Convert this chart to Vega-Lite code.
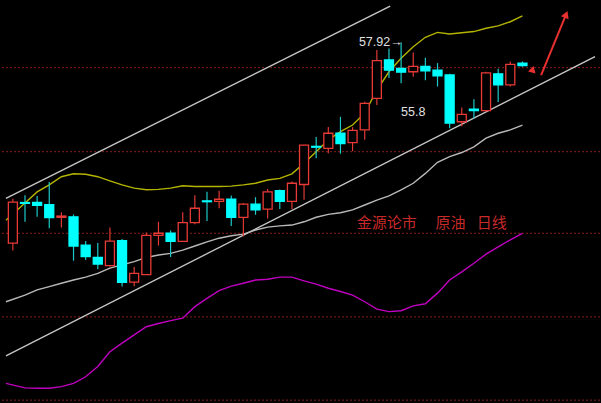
{
  "$schema": "https://vega.github.io/schema/vega-lite/v6.json",
  "width": 601,
  "height": 403,
  "autosize": {"type": "fit", "contains": "padding"},
  "padding": 0,
  "background": "#000000",
  "config": {"view": {"stroke": null}},
  "datasets": {
    "candles": [
      {"i":0,"o":53.02,"h":54.10,"l":52.84,"c":54.02},
      {"i":1,"o":54.01,"h":54.19,"l":53.54,"c":53.99},
      {"i":2,"o":54.01,"h":54.17,"l":53.66,"c":53.94},
      {"i":3,"o":53.96,"h":54.51,"l":53.38,"c":53.64},
      {"i":4,"o":53.65,"h":53.77,"l":53.40,"c":53.68},
      {"i":5,"o":53.66,"h":53.72,"l":52.59,"c":52.95},
      {"i":6,"o":52.97,"h":53.07,"l":52.61,"c":52.69},
      {"i":7,"o":52.67,"h":53.02,"l":52.38,"c":52.51},
      {"i":8,"o":52.47,"h":53.40,"l":52.45,"c":53.07},
      {"i":9,"o":53.08,"h":53.12,"l":51.96,"c":52.06},
      {"i":10,"o":52.07,"h":52.44,"l":51.97,"c":52.28},
      {"i":11,"o":52.25,"h":53.28,"l":52.24,"c":53.21},
      {"i":12,"o":53.21,"h":53.54,"l":52.96,"c":53.26},
      {"i":13,"o":53.26,"h":53.33,"l":52.68,"c":53.06},
      {"i":14,"o":53.06,"h":53.77,"l":53.05,"c":53.52},
      {"i":15,"o":53.52,"h":54.19,"l":53.48,"c":53.87},
      {"i":16,"o":54.05,"h":54.27,"l":53.56,"c":54.03},
      {"i":17,"o":54.04,"h":54.30,"l":53.87,"c":54.09},
      {"i":18,"o":54.09,"h":54.18,"l":53.44,"c":53.65},
      {"i":19,"o":53.65,"h":54.00,"l":53.19,"c":53.97},
      {"i":20,"o":53.97,"h":54.14,"l":53.71,"c":53.83},
      {"i":21,"o":53.85,"h":54.34,"l":53.62,"c":54.27},
      {"i":22,"o":54.30,"h":54.33,"l":53.85,"c":54.04},
      {"i":23,"o":54.04,"h":54.52,"l":53.85,"c":54.48},
      {"i":24,"o":54.45,"h":55.42,"l":54.08,"c":55.41},
      {"i":25,"o":55.38,"h":55.61,"l":55.09,"c":55.36},
      {"i":26,"o":55.33,"h":55.85,"l":55.21,"c":55.70},
      {"i":27,"o":55.70,"h":56.10,"l":55.20,"c":55.45},
      {"i":28,"o":55.47,"h":55.85,"l":55.26,"c":55.77},
      {"i":29,"o":55.78,"h":56.47,"l":55.54,"c":56.43},
      {"i":30,"o":56.55,"h":57.73,"l":56.39,"c":57.47},
      {"i":31,"o":57.49,"h":57.77,"l":57.05,"c":57.24},
      {"i":32,"o":57.28,"h":57.92,"l":56.92,"c":57.19},
      {"i":33,"o":57.20,"h":57.67,"l":57.08,"c":57.33},
      {"i":34,"o":57.33,"h":57.54,"l":56.99,"c":57.22},
      {"i":35,"o":57.24,"h":57.41,"l":56.84,"c":57.10},
      {"i":36,"o":57.12,"h":57.15,"l":55.82,"c":55.95},
      {"i":37,"o":55.98,"h":56.33,"l":55.87,"c":56.16},
      {"i":38,"o":56.29,"h":56.53,"l":56.06,"c":56.25},
      {"i":39,"o":56.25,"h":57.20,"l":56.23,"c":57.17},
      {"i":40,"o":57.15,"h":57.27,"l":56.46,"c":56.88},
      {"i":41,"o":56.88,"h":57.45,"l":56.84,"c":57.38},
      {"i":42,"o":57.41,"h":57.45,"l":57.32,"c":57.35}
    ],
    "ma": [
      {"s":"upper","i":-0.57,"p":53.58},{"s":"upper","i":1,"p":54.00},{"s":"upper","i":2,"p":54.27},{"s":"upper","i":3,"p":54.44},{"s":"upper","i":4,"p":54.64},{"s":"upper","i":5,"p":54.71},{"s":"upper","i":6,"p":54.70},{"s":"upper","i":7,"p":54.64},{"s":"upper","i":8,"p":54.54},{"s":"upper","i":9,"p":54.44},{"s":"upper","i":10,"p":54.36},{"s":"upper","i":11,"p":54.32},{"s":"upper","i":12,"p":54.33},{"s":"upper","i":13,"p":54.36},{"s":"upper","i":14,"p":54.42},{"s":"upper","i":15,"p":54.40},{"s":"upper","i":16,"p":54.40},{"s":"upper","i":17,"p":54.40},{"s":"upper","i":18,"p":54.41},{"s":"upper","i":19,"p":54.44},{"s":"upper","i":20,"p":54.48},{"s":"upper","i":21,"p":54.56},{"s":"upper","i":22,"p":54.60},{"s":"upper","i":23,"p":54.71},{"s":"upper","i":24,"p":54.97},{"s":"upper","i":25,"p":55.25},{"s":"upper","i":26,"p":55.54},{"s":"upper","i":27,"p":55.74},{"s":"upper","i":28,"p":55.90},{"s":"upper","i":29,"p":56.19},{"s":"upper","i":30,"p":56.75},{"s":"upper","i":31,"p":57.20},{"s":"upper","i":32,"p":57.53},{"s":"upper","i":33,"p":57.81},{"s":"upper","i":34,"p":58.04},{"s":"upper","i":35,"p":58.16},{"s":"upper","i":36,"p":58.12},{"s":"upper","i":37,"p":58.15},{"s":"upper","i":38,"p":58.18},{"s":"upper","i":39,"p":58.26},{"s":"upper","i":40,"p":58.32},{"s":"upper","i":41,"p":58.42},{"s":"upper","i":42,"p":58.56},
      {"s":"mid","i":-0.57,"p":51.59},{"s":"mid","i":1,"p":51.75},{"s":"mid","i":2,"p":51.88},{"s":"mid","i":3,"p":51.96},{"s":"mid","i":4,"p":52.04},{"s":"mid","i":5,"p":52.12},{"s":"mid","i":6,"p":52.19},{"s":"mid","i":7,"p":52.28},{"s":"mid","i":8,"p":52.41},{"s":"mid","i":9,"p":52.49},{"s":"mid","i":10,"p":52.57},{"s":"mid","i":11,"p":52.67},{"s":"mid","i":12,"p":52.73},{"s":"mid","i":13,"p":52.77},{"s":"mid","i":14,"p":52.85},{"s":"mid","i":15,"p":52.95},{"s":"mid","i":16,"p":53.05},{"s":"mid","i":17,"p":53.14},{"s":"mid","i":18,"p":53.20},{"s":"mid","i":19,"p":53.24},{"s":"mid","i":20,"p":53.34},{"s":"mid","i":21,"p":53.41},{"s":"mid","i":22,"p":53.44},{"s":"mid","i":23,"p":53.46},{"s":"mid","i":24,"p":53.54},{"s":"mid","i":25,"p":53.65},{"s":"mid","i":26,"p":53.72},{"s":"mid","i":27,"p":53.76},{"s":"mid","i":28,"p":53.83},{"s":"mid","i":29,"p":53.95},{"s":"mid","i":30,"p":54.07},{"s":"mid","i":31,"p":54.17},{"s":"mid","i":32,"p":54.32},{"s":"mid","i":33,"p":54.48},{"s":"mid","i":34,"p":54.72},{"s":"mid","i":35,"p":54.99},{"s":"mid","i":36,"p":55.13},{"s":"mid","i":37,"p":55.23},{"s":"mid","i":38,"p":55.37},{"s":"mid","i":39,"p":55.58},{"s":"mid","i":40,"p":55.70},{"s":"mid","i":41,"p":55.78},{"s":"mid","i":42,"p":55.90},
      {"s":"lower","i":-0.57,"p":49.60},{"s":"lower","i":1,"p":49.49},{"s":"lower","i":2,"p":49.48},{"s":"lower","i":3,"p":49.48},{"s":"lower","i":4,"p":49.52},{"s":"lower","i":5,"p":49.60},{"s":"lower","i":6,"p":49.76},{"s":"lower","i":7,"p":50.01},{"s":"lower","i":8,"p":50.37},{"s":"lower","i":9,"p":50.58},{"s":"lower","i":10,"p":50.78},{"s":"lower","i":11,"p":50.98},{"s":"lower","i":12,"p":51.06},{"s":"lower","i":13,"p":51.13},{"s":"lower","i":14,"p":51.19},{"s":"lower","i":15,"p":51.47},{"s":"lower","i":16,"p":51.67},{"s":"lower","i":17,"p":51.86},{"s":"lower","i":18,"p":51.97},{"s":"lower","i":19,"p":52.04},{"s":"lower","i":20,"p":52.12},{"s":"lower","i":21,"p":52.14},{"s":"lower","i":22,"p":52.19},{"s":"lower","i":23,"p":52.19},{"s":"lower","i":24,"p":52.10},{"s":"lower","i":25,"p":52.02},{"s":"lower","i":26,"p":51.92},{"s":"lower","i":27,"p":51.84},{"s":"lower","i":28,"p":51.75},{"s":"lower","i":29,"p":51.59},{"s":"lower","i":30,"p":51.41},{"s":"lower","i":31,"p":51.35},{"s":"lower","i":32,"p":51.37},{"s":"lower","i":33,"p":51.49},{"s":"lower","i":34,"p":51.54},{"s":"lower","i":35,"p":51.80},{"s":"lower","i":36,"p":52.12},{"s":"lower","i":37,"p":52.32},{"s":"lower","i":38,"p":52.53},{"s":"lower","i":39,"p":52.75},{"s":"lower","i":40,"p":52.93},{"s":"lower","i":41,"p":53.10},{"s":"lower","i":42,"p":53.26}
    ],
    "channels": [
      {"s":"top","i":-0.57,"p":54.11},{"s":"top","i":31.1,"p":58.80},
      {"s":"bottom","i":-0.57,"p":50.27},{"s":"bottom","i":47.98,"p":57.57}
    ],
    "grid": [{"p":57.30},{"p":55.25},{"p":53.26},{"p":51.22},{"p":49.19}],
    "labels": [
      {"t":"57.92→","i":28.52,"p":57.92},
      {"t":"55.8","i":32.0,"p":56.22}
    ],
    "titles": [
      {"t":"金源论市","i":28.35,"p":53.51},
      {"t":"原油","i":34.84,"p":53.51},
      {"t":"日线","i":38.23,"p":53.51}
    ],
    "arrow": [{"i":43.54,"p":57.12,"i2":45.6,"p2":58.6}]
  },
  "layer": [
    {
      "data": {"name": "grid"},
      "mark": {"type": "rule", "color": "#8c1c1c", "strokeWidth": 1, "strokeDash": [2, 2]},
      "encoding": {
        "y": {"field": "p", "type": "quantitative", "scale": {"domain": [49.12, 58.95], "nice": false, "zero": false}, "axis": null}
      }
    },
    {
      "data": {"name": "channels"},
      "mark": {"type": "line", "color": "#c8c8c8", "strokeWidth": 1.3, "clip": true},
      "encoding": {
        "x": {"field": "i", "type": "quantitative", "scale": {"domain": [-0.565, 47.98], "nice": false, "zero": false}, "axis": null},
        "y": {"field": "p", "type": "quantitative", "axis": null},
        "detail": {"field": "s"}
      }
    },
    {
      "data": {"name": "ma"},
      "mark": {"type": "line", "strokeWidth": 1.4, "clip": true},
      "encoding": {
        "x": {"field": "i", "type": "quantitative", "axis": null},
        "y": {"field": "p", "type": "quantitative", "axis": null},
        "color": {"field": "s", "type": "nominal", "scale": {"domain": ["upper", "mid", "lower"], "range": ["#b4b400", "#b9b9b9", "#c000c0"]}, "legend": null}
      }
    },
    {
      "data": {"name": "candles"},
      "mark": {"type": "rule", "strokeWidth": 1.2},
      "encoding": {
        "x": {"field": "i", "type": "quantitative", "axis": null},
        "y": {"field": "l", "type": "quantitative", "axis": null},
        "y2": {"field": "h"},
        "color": {"condition": {"test": "datum.c >= datum.o", "value": "#e03a36"}, "value": "#1cc8c8"}
      }
    },
    {
      "data": {"name": "candles"},
      "mark": {"type": "bar", "size": 9, "strokeWidth": 1.3},
      "encoding": {
        "x": {"field": "i", "type": "quantitative", "axis": null},
        "y": {"field": "o", "type": "quantitative", "axis": null},
        "y2": {"field": "c"},
        "fill": {"condition": {"test": "datum.c >= datum.o", "value": "#000000"}, "value": "#00ffff"},
        "stroke": {"condition": {"test": "datum.c >= datum.o", "value": "#e83a36"}, "value": "#00ffff"}
      }
    },
    {
      "data": {"name": "labels"},
      "mark": {"type": "text", "align": "left", "baseline": "middle", "fontSize": 12.5, "font": "Liberation Sans", "color": "#e0e0e0"},
      "encoding": {
        "x": {"field": "i", "type": "quantitative", "axis": null},
        "y": {"field": "p", "type": "quantitative", "axis": null},
        "text": {"field": "t"}
      }
    },
    {
      "data": {"name": "titles"},
      "mark": {"type": "text", "align": "left", "baseline": "middle", "fontSize": 15, "font": "Noto Sans CJK SC", "color": "#c82a2a"},
      "encoding": {
        "x": {"field": "i", "type": "quantitative", "axis": null},
        "y": {"field": "p", "type": "quantitative", "axis": null},
        "text": {"field": "t"}
      }
    },
    {
      "data": {"name": "arrow"},
      "mark": {"type": "rule", "color": "#e83030", "strokeWidth": 2},
      "encoding": {
        "x": {"field": "i", "type": "quantitative", "axis": null},
        "y": {"field": "p", "type": "quantitative", "axis": null},
        "x2": {"field": "i2"},
        "y2": {"field": "p2"}
      }
    },
    {
      "data": {"name": "arrow"},
      "mark": {"type": "point", "shape": "triangle-up", "filled": true, "color": "#e83030", "size": 70, "angle": 22, "opacity": 1},
      "encoding": {
        "x": {"field": "i2", "type": "quantitative", "axis": null},
        "y": {"field": "p2", "type": "quantitative", "axis": null}
      }
    },
    {
      "data": {"values": [{"i": 42.73, "p": 57.23}]},
      "mark": {"type": "point", "shape": "triangle-left", "filled": true, "color": "#e83030", "size": 60, "angle": -15, "opacity": 1},
      "encoding": {
        "x": {"field": "i", "type": "quantitative", "axis": null},
        "y": {"field": "p", "type": "quantitative", "axis": null}
      }
    }
  ]
}
